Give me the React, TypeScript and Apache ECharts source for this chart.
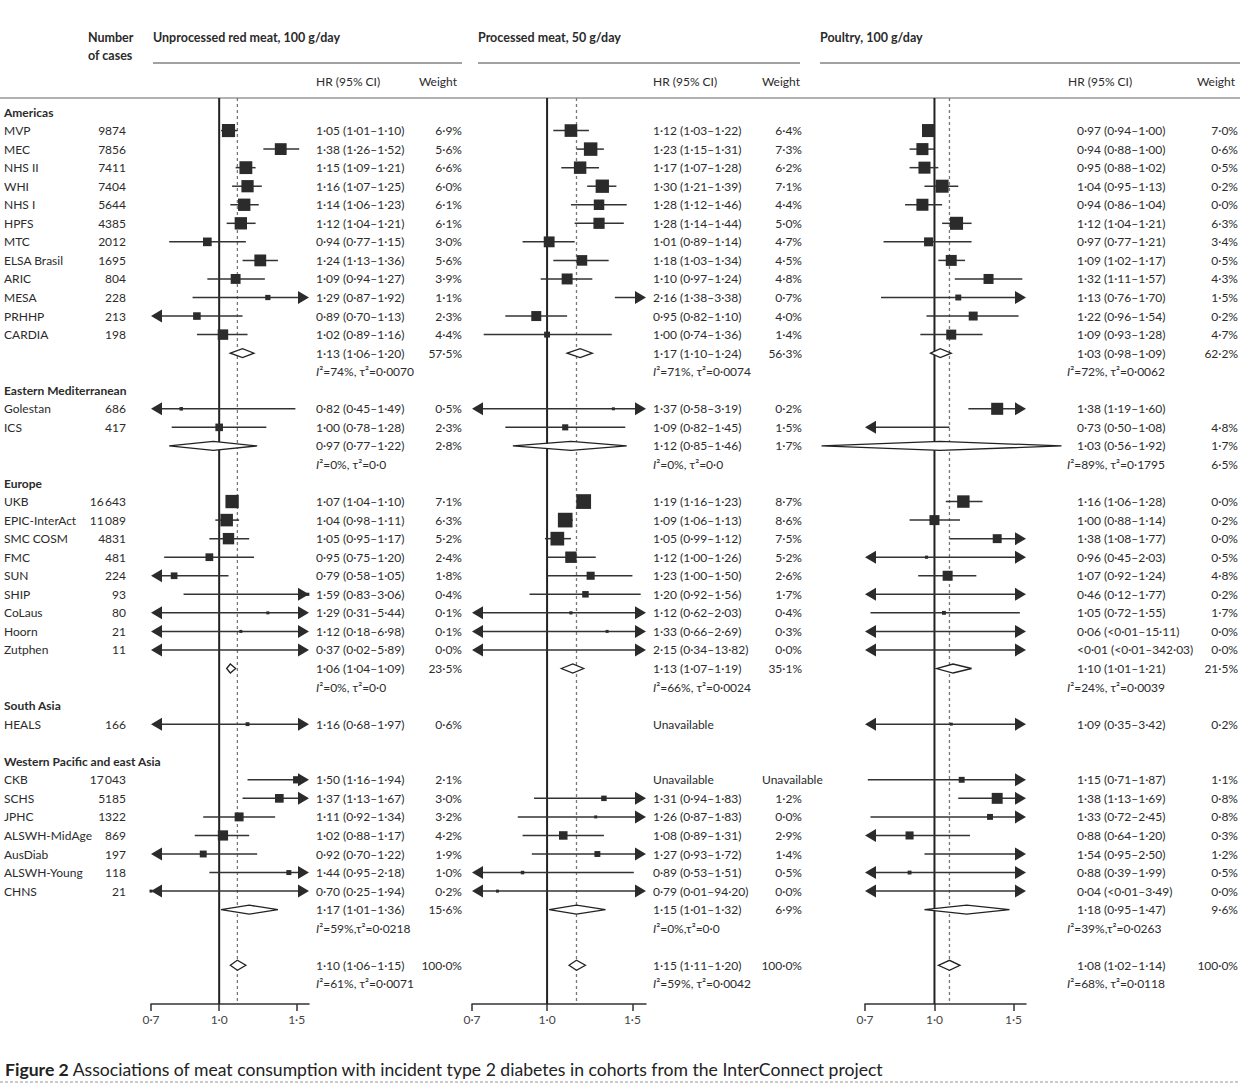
import React, { useEffect, useRef } from "react";
import * as echarts from "echarts";

// ---------------- data ----------------
const regionNames = ["Americas", "Eastern Mediterranean", "Europe", "South Asia", "Western Pacific and east Asia"];
const studyNames = [
  "MVP", "MEC", "NHS II", "WHI", "NHS I", "HPFS", "MTC", "ELSA Brasil", "ARIC", "MESA", "PRHHP", "CARDIA",
  "Golestan", "ICS",
  "UKB", "EPIC-InterAct", "SMC COSM", "FMC", "SUN", "SHIP", "CoLaus", "Hoorn", "Zutphen",
  "HEALS",
  "CKB", "SCHS", "JPHC", "ALSWH-MidAge", "AusDiab", "ALSWH-Young", "CHNS",
];
const studyRegion = [0,0,0,0,0,0,0,0,0,0,0,0, 1,1, 2,2,2,2,2,2,2,2,2, 3, 4,4,4,4,4,4,4];
const cases = [9874,7856,7411,7404,5644,4385,2012,1695,804,228,213,198, 686,417, 16643,11089,4831,481,224,93,80,21,11, 166, 17043,5185,1322,869,197,118,21];

const panelTitles = ["Unprocessed red meat, 100 g/day", "Processed meat, 50 g/day", "Poultry, 100 g/day"];
const tickValues = [0.7, 1.0, 1.5];

// Unprocessed red meat
const redHR = [1.05,1.38,1.15,1.16,1.14,1.12,0.94,1.24,1.09,1.29,0.89,1.02, 0.82,1.00, 1.07,1.04,1.05,0.95,0.79,1.59,1.29,1.12,0.37, 1.16, 1.50,1.37,1.11,1.02,0.92,1.44,0.70];
const redLo = [1.01,1.26,1.09,1.07,1.06,1.04,0.77,1.13,0.94,0.87,0.70,0.89, 0.45,0.78, 1.04,0.98,0.95,0.75,0.58,0.83,0.31,0.18,0.02, 0.68, 1.16,1.13,0.92,0.88,0.70,0.95,0.25];
const redHi = [1.10,1.52,1.21,1.25,1.23,1.21,1.15,1.36,1.27,1.92,1.13,1.16, 1.49,1.28, 1.10,1.11,1.17,1.20,1.05,3.06,5.44,6.98,5.89, 1.97, 1.94,1.67,1.34,1.17,1.22,2.18,1.94];
const redWeight: (number | string | null)[] = [6.9,5.6,6.6,6.0,6.1,6.1,3.0,5.6,3.9,1.1,2.3,4.4, 0.5,2.3, 7.1,6.3,5.2,2.4,1.8,0.4,0.1,0.1,0.0, 0.6, 2.1,3.0,3.2,4.2,1.9,1.0,0.2];
const redPoolHR = [1.13,0.97,1.06,null,1.17];
const redPoolLo = [1.06,0.77,1.04,null,1.01];
const redPoolHi = [1.20,1.22,1.09,null,1.36];
const redPoolWeight = [57.5,2.8,23.5,null,15.6];
const redHet = ["I²=74%, τ²=0·0070","I²=0%, τ²=0·0","I²=0%, τ²=0·0",null,"I²=59%,τ²=0·0218"];
const redHetWeight = [null,null,null,null,null];
const redOverall = [1.10,1.06,1.15];
const redOverallHet = "I²=61%, τ²=0·0071";

// Processed meat
const procHR = [1.12,1.23,1.17,1.30,1.28,1.28,1.01,1.18,1.10,2.16,0.95,1.00, 1.37,1.09, 1.19,1.09,1.05,1.12,1.23,1.20,1.12,1.33,2.15, null, null,1.31,1.26,1.08,1.27,0.89,0.79];
const procLo = [1.03,1.15,1.07,1.21,1.12,1.14,0.89,1.03,0.97,1.38,0.82,0.74, 0.58,0.82, 1.16,1.06,0.99,1.00,1.00,0.92,0.62,0.66,0.34, null, null,0.94,0.87,0.89,0.93,0.53,0.01];
const procHi = [1.22,1.31,1.28,1.39,1.46,1.44,1.14,1.34,1.24,3.38,1.10,1.36, 3.19,1.45, 1.23,1.13,1.12,1.26,1.50,1.56,2.03,2.69,13.82, null, null,1.83,1.83,1.31,1.72,1.51,94.20];
const procWeight: (number | string | null)[] = [6.4,7.3,6.2,7.1,4.4,5.0,4.7,4.5,4.8,0.7,4.0,1.4, 0.2,1.5, 8.7,8.6,7.5,5.2,2.6,1.7,0.4,0.3,0.0, null, "Unavailable",1.2,0.0,2.9,1.4,0.5,0.0];
const procPoolHR = [1.17,1.12,1.13,null,1.15];
const procPoolLo = [1.10,0.85,1.07,null,1.01];
const procPoolHi = [1.24,1.46,1.19,null,1.32];
const procPoolWeight = [56.3,1.7,35.1,null,6.9];
const procHet = ["I²=71%, τ²=0·0074","I²=0%, τ²=0·0","I²=66%, τ²=0·0024",null,"I²=0%,τ²=0·0"];
const procHetWeight = [null,null,null,null,null];
const procOverall = [1.15,1.11,1.20];
const procOverallHet = "I²=59%, τ²=0·0042";

// Poultry (values below 0·01 are shown as "<0·01")
const poulHR = [0.97,0.94,0.95,1.04,0.94,1.12,0.97,1.09,1.32,1.13,1.22,1.09, 1.38,0.73, 1.16,1.00,1.38,0.96,1.07,0.46,1.05,0.06,0.005, 1.09, 1.15,1.38,1.33,0.88,1.54,0.88,0.04];
const poulLo = [0.94,0.88,0.88,0.95,0.86,1.04,0.77,1.02,1.11,0.76,0.96,0.93, 1.19,0.50, 1.06,0.88,1.08,0.45,0.92,0.12,0.72,0.005,0.005, 0.35, 0.71,1.13,0.72,0.64,0.95,0.39,0.005];
const poulHi = [1.00,1.00,1.02,1.13,1.04,1.21,1.21,1.17,1.57,1.70,1.54,1.28, 1.60,1.08, 1.28,1.14,1.77,2.03,1.24,1.77,1.55,15.11,342.03, 3.42, 1.87,1.69,2.45,1.20,2.50,1.99,3.49];
const poulWeight: (number | string | null)[] = [7.0,0.6,0.5,0.2,0.0,6.3,3.4,0.5,4.3,1.5,0.2,4.7, null,4.8, 0.0,0.2,0.0,0.5,4.8,0.2,1.7,0.0,0.0, 0.2, 1.1,0.8,0.8,0.3,1.2,0.5,0.0];
const poulBoxWeight = [6.8,5.8,5.8,6.8,5.8,6.8,3.2,4.8,4.0,1.4,3.2,4.0, 5.8,0.5, 6.2,4.0,3.2,0.4,4.0,0.5,0.6,0.1,0.1, 0.3, 1.4,4.8,1.4,2.6,1.2,0.6,0.1];
const poulPoolHR = [1.03,1.03,1.10,null,1.18];
const poulPoolLo = [0.98,0.56,1.01,null,0.95];
const poulPoolHi = [1.09,1.92,1.21,null,1.47];
const poulPoolWeight = [62.2,1.7,21.5,null,9.6];
const poulHet = ["I²=72%, τ²=0·0062","I²=89%, τ²=0·1795","I²=24%, τ²=0·0039",null,"I²=39%,τ²=0·0263"];
const poulHetWeight = [null,6.5,null,null,null];
const poulOverall = [1.08,1.02,1.14];
const poulOverallHet = "I²=68%, τ²=0·0118";

// ---------------- layout ----------------
const FONT = "Lato, 'DejaVu Sans', sans-serif";
const INK = "#2b2b2b";
const GRID_TOP = 98;
const GRID_H = 906;
const ROW_STEP = 18.55;
const Y_MIN = -0.755;
const Y_MAX = Y_MIN + GRID_H / ROW_STEP;
const X_MIN = 0.7;
const X_MAX = 1.6;
const rowY = (i: number) => GRID_TOP + (i - Y_MIN) * ROW_STEP;

const layout = [
  { left: 151, right: 309, hrX: 316, hetX: 316, wX: 462, hrHeadX: 316, wHeadX: 457, titleX: 153, rule: [153, 462] },
  { left: 472, right: 646, hrX: 653, hetX: 653, wX: 802, hrHeadX: 653, wHeadX: 800, titleX: 478, rule: [478, 800] },
  { left: 865, right: 1026, hrX: 1077, hetX: 1067, wX: 1238, hrHeadX: 1068, wHeadX: 1235, titleX: 820, rule: [820, 1240] },
];

const panels = [
  { hr: redHR, lo: redLo, hi: redHi, w: redWeight, box: null as number[] | null, pHR: redPoolHR, pLo: redPoolLo, pHi: redPoolHi, pW: redPoolWeight, het: redHet, hetW: redHetWeight, ov: redOverall, ovHet: redOverallHet },
  { hr: procHR, lo: procLo, hi: procHi, w: procWeight, box: null as number[] | null, pHR: procPoolHR, pLo: procPoolLo, pHi: procPoolHi, pW: procPoolWeight, het: procHet, hetW: procHetWeight, ov: procOverall, ovHet: procOverallHet },
  { hr: poulHR, lo: poulLo, hi: poulHi, w: poulWeight, box: poulBoxWeight, pHR: poulPoolHR, pLo: poulPoolLo, pHi: poulPoolHi, pW: poulPoolWeight, het: poulHet, hetW: poulHetWeight, ov: poulOverall, ovHet: poulOverallHet },
];

// ---------------- helpers ----------------
const fmt = (v: number) => (v < 0.01 ? "<0·01" : v.toFixed(2).replace(".", "·"));
const fmtCI = (h: number, l: number, u: number) => `${fmt(h)} (${fmt(l)}–${fmt(u)})`;
const fmtW = (w: number | string | null) => (w === null ? "" : typeof w === "string" ? w : w.toFixed(1).replace(".", "·") + "%");
const fmtCases = (n: number) => (n >= 10000 ? String(Math.floor(n / 1000)) + "\u2009" + String(n % 1000).padStart(3, "0") : String(n));
const boxSize = (w: number) => Math.max(3, 5 * Math.sqrt(w));

type Row = { kind: "header" | "study" | "pooled" | "het" | "blank" | "overall" | "overallHet"; region?: number; study?: number };
function buildRows(): Row[] {
  const rows: Row[] = [];
  regionNames.forEach((_, r) => {
    rows.push({ kind: "header", region: r });
    studyRegion.forEach((sr, s) => { if (sr === r) rows.push({ kind: "study", region: r, study: s }); });
    if (panels[0].pHR[r] !== null) {
      rows.push({ kind: "pooled", region: r });
      rows.push({ kind: "het", region: r });
    } else rows.push({ kind: "blank", region: r });
  });
  rows.push({ kind: "blank" });
  rows.push({ kind: "overall" });
  rows.push({ kind: "overallHet" });
  return rows;
}

function txt(x: number, y: number, text: string, o: any = {}) {
  const size = o.size || 12;
  const fill = o.fill || INK;
  const style: any = {
    text, fill, fontSize: size, fontFamily: FONT, fontWeight: o.weight || "normal",
    textAlign: o.align || "left", align: o.align || "left",
    textVerticalAlign: "middle", verticalAlign: "middle",
  };
  if (o.rich) style.rich = o.rich;
  return { type: "text", x, y, silent: true, style };
}
const hetText = (s: string) => s.replace(/^I/, "{it|I}");
const hetRich = { it: { fontStyle: "italic", fontSize: 12, fontFamily: FONT, fill: INK } };

function hline(x1: number, x2: number, y: number, stroke = "#555", lineWidth = 1, dash?: number[]) {
  return { type: "line", silent: true, shape: { x1, y1: y, x2, y2: y }, style: { stroke, lineWidth, lineDash: dash } };
}

function renderMarks(params: any, api: any) {
  const cs = params.coordSys;
  const left = cs.x, right = cs.x + cs.width;
  const row = api.value(0);
  const kind = api.value(5);
  const y = api.coord([0, row])[1];
  const xh = api.coord([api.value(1), row])[0];
  const xl = api.coord([api.value(2), row])[0];
  const xu = api.coord([api.value(3), row])[0];
  if (kind > 0) {
    const h = kind === 2 ? 5 : 4.5;
    return {
      type: "polygon",
      shape: { points: [[xl, y], [xh, y - h], [xu, y], [xh, y + h]] },
      style: { fill: "#fff", stroke: "#222", lineWidth: 1.3 },
    };
  }
  const children: any[] = [];
  const AL = 11, AH = 6.5;
  const arrowL = xl <= left + 0.5;
  const arrowR = xu >= right - 0.5;
  const x1 = arrowL ? left + AL : xl;
  const x2 = arrowR ? right - AL : xu;
  if (x2 > x1) children.push({ type: "line", shape: { x1, y1: y, x2, y2: y }, style: { stroke: "#333", lineWidth: 1.5 } });
  if (arrowL) children.push({ type: "polygon", shape: { points: [[left, y], [left + AL, y - AH], [left + AL, y + AH]] }, style: { fill: "#2b2b2b" } });
  if (arrowR) children.push({ type: "polygon", shape: { points: [[right, y], [right - AL, y - AH], [right - AL, y + AH]] }, style: { fill: "#2b2b2b" } });
  if (xh >= left - 0.5 && xh <= right + 0.5) {
    const s = api.value(4);
    children.push({ type: "rect", shape: { x: xh - s / 2, y: y - s / 2, width: s, height: s }, style: { fill: "#2b2b2b" } });
  }
  return { type: "group", children };
}

function renderRefs(params: any, api: any) {
  const cs = params.coordSys;
  const xa = api.coord([api.value(0), 0])[0];
  const xb = api.coord([api.value(1), 0])[0];
  return {
    type: "group",
    children: [
      { type: "line", shape: { x1: xb, y1: cs.y, x2: xb, y2: cs.y + cs.height }, style: { stroke: "#777", lineWidth: 1.3, lineDash: [3, 3] } },
      { type: "line", shape: { x1: xa, y1: cs.y, x2: xa, y2: cs.y + cs.height }, style: { stroke: "#222", lineWidth: 2 } },
    ],
  };
}

function buildOption() {
  const rows = buildRows();
  const graphic: any[] = [];
  const series: any[] = [];

  graphic.push(txt(88, 37, "Number", { weight: "bold", size: 12.5 }));
  graphic.push(txt(88, 55, "of cases", { weight: "bold", size: 12.5 }));
  graphic.push(hline(0, 1240, GRID_TOP, "#666", 1.2));

  layout.forEach((L, k) => {
    graphic.push(txt(L.titleX, 37, panelTitles[k], { weight: "bold", size: 12.5 }));
    graphic.push(hline(L.rule[0], L.rule[1], 63, "#444", 1));
    graphic.push(txt(L.hrHeadX, 81, "HR (95% CI)"));
    graphic.push(txt(L.wHeadX, 81, "Weight", { align: "right" }));
  });

  rows.forEach((row, i) => {
    const y = rowY(i);
    if (row.kind === "header") graphic.push(txt(4, y, regionNames[row.region!], { weight: "bold" }));
    if (row.kind === "study") {
      graphic.push(txt(4, y, studyNames[row.study!]));
      graphic.push(txt(126, y, fmtCases(cases[row.study!]), { align: "right" }));
    }
  });

  panels.forEach((P, k) => {
    const L = layout[k];
    const data: any[] = [];
    rows.forEach((row, i) => {
      const y = rowY(i);
      if (row.kind === "study") {
        const s = row.study!;
        const h = P.hr[s], l = P.lo[s], u = P.hi[s];
        if (h === null || l === null || u === null) graphic.push(txt(L.hrX, y, "Unavailable"));
        else {
          graphic.push(txt(L.hrX, y, fmtCI(h, l, u)));
          const bw = P.box ? P.box[s] : (P.w[s] as number);
          data.push([i, Math.log(h), Math.log(l), Math.log(u), boxSize(bw), 0]);
        }
        const w = P.w[s];
        if (typeof w === "string") graphic.push(txt(L.wX - 40, y, w));
        else if (w !== null) graphic.push(txt(L.wX, y, fmtW(w), { align: "right" }));
      } else if (row.kind === "pooled") {
        const r = row.region!;
        const h = P.pHR[r]!, l = P.pLo[r]!, u = P.pHi[r]!;
        graphic.push(txt(L.hrX, y, fmtCI(h, l, u)));
        graphic.push(txt(L.wX, y, fmtW(P.pW[r]), { align: "right" }));
        data.push([i, Math.log(h), Math.log(l), Math.log(u), 0, 1]);
      } else if (row.kind === "het") {
        const r = row.region!;
        graphic.push(txt(L.hetX, y, hetText(P.het[r]!), { rich: hetRich }));
        if (P.hetW[r] !== null) graphic.push(txt(L.wX, y, fmtW(P.hetW[r]), { align: "right" }));
      } else if (row.kind === "overall") {
        const [h, l, u] = P.ov;
        graphic.push(txt(L.hrX, y, fmtCI(h, l, u)));
        graphic.push(txt(L.wX, y, fmtW(100), { align: "right" }));
        data.push([i, Math.log(h), Math.log(l), Math.log(u), 0, 2]);
      } else if (row.kind === "overallHet") {
        graphic.push(txt(L.hetX, y, hetText(P.ovHet), { rich: hetRich }));
      }
    });

    series.push({
      type: "custom", xAxisIndex: k, yAxisIndex: k, z: 1, silent: true,
      renderItem: renderRefs,
      data: [[0, Math.log(P.ov[0]), 0]],
      encode: { x: [0, 1], y: 2 },
    });
    series.push({
      type: "custom", xAxisIndex: k, yAxisIndex: k, z: 2, silent: true,
      renderItem: renderMarks,
      dimensions: ["row", "hr", "lo", "hi", "size", "kind"],
      encode: { x: [1, 2, 3], y: 0 },
      data,
    });
  });

  graphic.push({
    type: "text", x: 5, y: 1069, silent: true,
    style: {
      text: "{b|Figure 2} Associations of meat consumption with incident type 2 diabetes in cohorts from the InterConnect project",
      fill: "#222", fontSize: 17.6, fontFamily: FONT, verticalAlign: "middle", textVerticalAlign: "middle",
      rich: { b: { fontWeight: "bold", fontSize: 17.6, fontFamily: FONT, fill: "#222" } },
    },
  });
  graphic.push(hline(0, 1240, 1082, "#999", 1, [3, 2]));

  const logTicks = tickValues.map((v) => Math.log(v));
  return {
    animation: false,
    backgroundColor: "#fff",
    grid: layout.map((L) => ({ left: L.left, top: GRID_TOP, width: L.right - L.left, height: GRID_H })),
    xAxis: layout.map((_, k) => ({
      type: "value", gridIndex: k, min: Math.log(X_MIN), max: Math.log(X_MAX),
      splitLine: { show: false },
      axisLine: { show: true, onZero: false, lineStyle: { color: "#333", width: 1.5 } },
      axisTick: { show: true, customValues: logTicks, length: 7, lineStyle: { color: "#333", width: 1.5 } },
      axisLabel: {
        customValues: logTicks, margin: 9, color: "#444", fontSize: 12, fontFamily: FONT,
        formatter: (v: number) => Math.exp(v).toFixed(1).replace(".", "·"),
      },
    })),
    yAxis: layout.map((_, k) => ({ type: "value", gridIndex: k, inverse: true, min: Y_MIN, max: Y_MAX, show: false })),
    series,
    graphic,
  };
}

export default function App() {
  const ref = useRef<HTMLDivElement>(null);
  useEffect(() => {
    document.body.style.margin = "0";
    if (!ref.current) return;
    const chart = echarts.init(ref.current, undefined, { renderer: "svg" });
    chart.setOption(buildOption() as any);
    return () => chart.dispose();
  }, []);
  return <div ref={ref} style={{ width: 1250, height: 1085, background: "#fff" }} />;
}
